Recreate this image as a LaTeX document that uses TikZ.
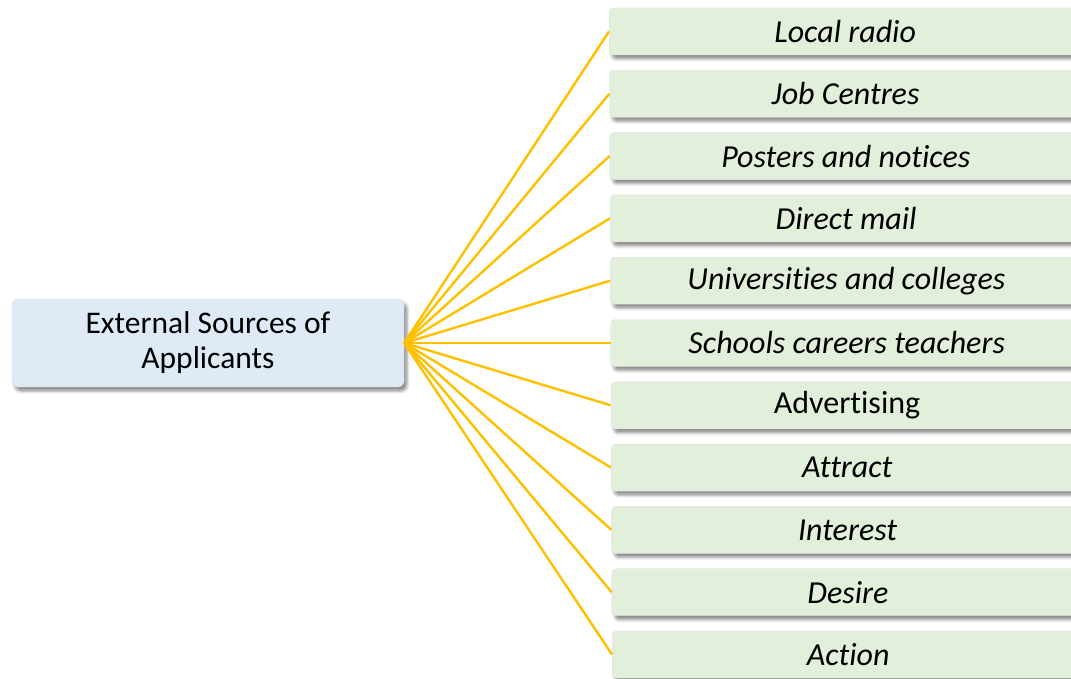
\documentclass[tikz,border=0pt]{standalone}
\usepackage{fontspec}
\setmainfont[Ligatures=NoCommon]{Carlito}
\usetikzlibrary{shadows.blur}
\definecolor{rootfill}{HTML}{DEEBF7}
\definecolor{leaffill}{HTML}{E2EFDA}
\definecolor{linkcol}{HTML}{FFC000}
\tikzset{
  rootbox/.style={draw=white!85!black, line width=0.4pt, fill=rootfill, rounded corners=6pt,
    minimum width=392pt, minimum height=88pt, inner sep=0pt, align=center,
    font=\fontsize{31.5}{35}\selectfont,
    blur shadow={shadow xshift=3pt, shadow yshift=-4pt, shadow blur radius=3pt, shadow opacity=45}},
  leafbox/.style={draw=white!88!black, line width=0.4pt, fill=leaffill, rounded corners=4pt,
    minimum width=472pt, minimum height=47pt, inner sep=0pt, anchor=west,
    font=\fontsize{32}{36}\selectfont\itshape,
    blur shadow={shadow xshift=3pt, shadow yshift=-4pt, shadow blur radius=3pt, shadow opacity=45}},
  link/.style={draw=linkcol, line width=2.4pt}
}
\begin{document}
\begin{tikzpicture}[x=1pt,y=-1pt]
\useasboundingbox (0,0) rectangle (1071,679);
\node[rootbox] (root) at (208,343) {External Sources of\\Applicants};
\node[leafbox] (l0) at (609.0,31.5) {Local radio};
\node[leafbox] (l1) at (609.3,93.8) {Job Centres};
\node[leafbox] (l2) at (609.6,156.1) {Posters and notices};
\node[leafbox] (l3) at (609.9,218.4) {Direct mail};
\node[leafbox] (l4) at (610.2,280.7) {Universities and colleges};
\node[leafbox] (l5) at (610.5,343.0) {Schools careers teachers};
\node[leafbox, font=\fontsize{32}{36}\selectfont\upshape] (l6) at (610.8,405.3) {Advertising};
\node[leafbox] (l7) at (611.1,467.6) {Attract};
\node[leafbox] (l8) at (611.4,529.9) {Interest};
\node[leafbox] (l9) at (611.7,592.2) {Desire};
\node[leafbox] (l10) at (612.0,654.5) {Action};
\foreach \i in {0,...,10} {
  \draw[link] (root.east) -- (l\i.west);
}
\end{tikzpicture}
\end{document}
